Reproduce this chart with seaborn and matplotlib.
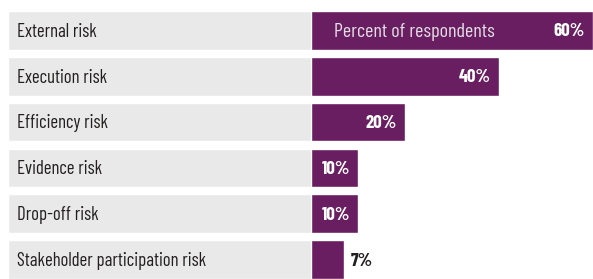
import matplotlib
matplotlib.use('Agg')
import matplotlib.pyplot as plt
import matplotlib.transforms as mtransforms
import seaborn as sns
import pandas as pd

# Chart data
categories = ['External risk', 'Execution risk', 'Efficiency risk',
              'Evidence risk', 'Drop-off risk', 'Stakeholder participation risk']
percent = [60, 40, 20, 10, 10, 7]
value_labels = ['60%', '40%', '20%', '10%', '10%', '7%']
bar_title = 'Percent of respondents'

PURPLE = '#691e61'
GRAY = '#e8e9e8'
FONT = ['Barlow Condensed', 'DejaVu Sans']

sns.set_theme(style='white')
plt.rcParams['font.family'] = FONT

df = pd.DataFrame({'category': categories, 'percent': percent})

W, H = 593, 279
fig = plt.figure(figsize=(W / 100, H / 100), dpi=100)
fig.patch.set_facecolor('white')

bar_h = 0.845
top_px, bot_px = 11, 279
ax_bottom = 1 - bot_px / H
ax_height = (bot_px - top_px) / H

# left panel: gray label boxes
ax_lab = fig.add_axes([8 / W, ax_bottom, (311 - 8) / W, ax_height])
sns.barplot(data=df.assign(box=1), x='box', y='category', orient='h',
            color=GRAY, saturation=1, width=bar_h, ax=ax_lab)
ax_lab.set_xlim(0, 1)
for i, cat in enumerate(categories):
    ax_lab.text(9 / (311 - 8), i + 0.03, cat, ha='left', va='center',
                fontsize=13.5, color='#231f20')

# right panel: purple bars
ax = fig.add_axes([311 / W, ax_bottom, (W - 311) / W, ax_height])
sns.barplot(data=df, x='percent', y='category', orient='h',
            color=PURPLE, saturation=1, width=bar_h, ax=ax)
ax.set_xlim(0, 60)

for a in (ax_lab, ax):
    a.set_ylim(len(categories) - 1 + bar_h / 2, -bar_h / 2)
    a.axis('off')

inside = mtransforms.offset_copy(ax.transData, fig=fig, x=-8, y=0, units='dots')
outside = mtransforms.offset_copy(ax.transData, fig=fig, x=7, y=0, units='dots')
for i, (v, lab) in enumerate(zip(percent, value_labels)):
    if v >= 10:
        ax.text(v, i + 0.03, lab, ha='right', va='center', fontsize=13.5,
                fontweight='bold', color='white', transform=inside)
    else:
        ax.text(v, i + 0.03, lab, ha='left', va='center', fontsize=13.5,
                fontweight='bold', color='#231f20', transform=outside)

ax.text(4.8, 0.03, bar_title, ha='left', va='center', fontsize=14.5,
        color='#e4dde4')

fig.savefig('out.png', dpi=100, facecolor='white')
